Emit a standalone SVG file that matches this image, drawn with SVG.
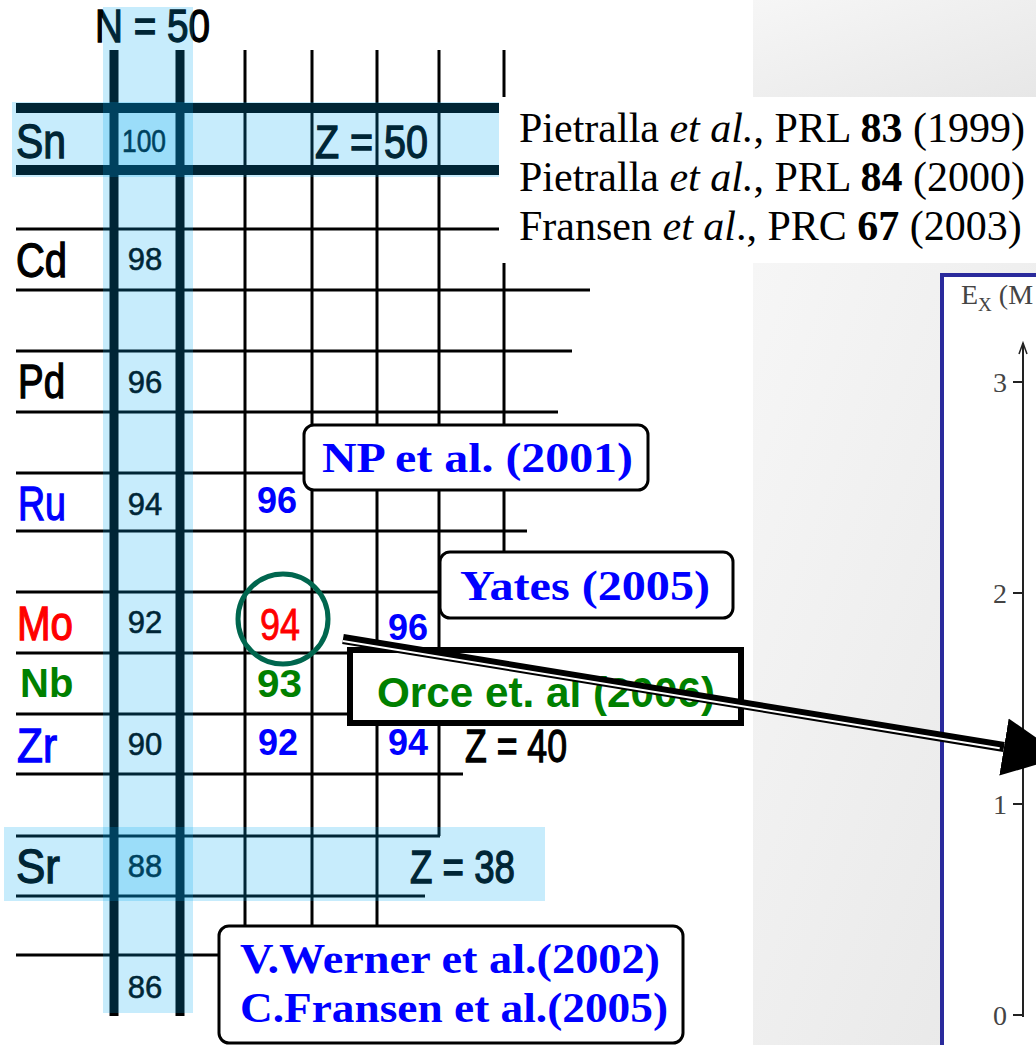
<svg xmlns="http://www.w3.org/2000/svg" width="1036" height="1045" viewBox="0 0 1036 1045">
<style>
.ln{stroke:#000;stroke-width:3;fill:none}
.tk{stroke:#000;stroke-width:9;fill:none}
.ov{fill:#00aaf0;fill-opacity:0.22}
.sans{font-family:"Liberation Sans",Arial,sans-serif}
.el{font-family:"Liberation Sans",Arial,sans-serif;font-size:48px;stroke-width:1.3}
.num{font-family:"Liberation Sans",Arial,sans-serif;font-size:31px;text-anchor:middle;fill:#000;stroke:#000;stroke-width:0.6}
.gn{font-family:"Liberation Sans",Arial,sans-serif;font-size:36px;font-weight:bold;fill:#0000ff}
.zl{font-family:"Liberation Sans",Arial,sans-serif;font-size:46px;fill:#000;stroke:#000;stroke-width:1.3}
.bx{fill:#fff;stroke:#000;stroke-width:3}
.refb{font-family:"Liberation Serif","Times New Roman",serif;font-weight:bold;fill:#0000ff;font-size:42px}
.cit{font-family:"Liberation Serif","Times New Roman",serif;font-size:42px;fill:#000}
.ax{font-family:"Liberation Serif","Times New Roman",serif;font-size:28px;fill:#444}
</style>
<defs>
<linearGradient id="gp" x1="0" y1="0" x2="1" y2="1">
<stop offset="0" stop-color="#f6f6f6"/>
<stop offset="1" stop-color="#e7e7e7"/>
</linearGradient>
<marker id="ah" markerUnits="userSpaceOnUse" markerWidth="62" markerHeight="60" refX="0" refY="30" orient="auto">
<path d="M0,1 L60,30 L0,59 Z" fill="#000"/>
</marker>
</defs>
<rect width="1036" height="1045" fill="#fff"/>

<g id="plot-panel">
<rect x="753" y="0" width="283" height="97" fill="url(#gp)"/>
<rect x="753" y="263" width="283" height="782" fill="url(#gp)"/>
<rect x="942" y="275" width="200" height="900" fill="#fff" stroke="#2a2a9c" stroke-width="4"/>
<text x="961" y="304" class="ax" font-size="27">E<tspan font-size="19" dy="7">X</tspan><tspan dy="-7"> (M</tspan></text>
<line x1="1023" y1="343" x2="1023" y2="1017" stroke="#222" stroke-width="2"/>
<path d="M1019,354 L1023,343 L1027,354" fill="none" stroke="#222" stroke-width="1.5"/>
<path d="M1013,382 H1023 M1013,593 H1023 M1013,804 H1023 M1013,1015 H1023" stroke="#222" stroke-width="2"/>
<text x="993" y="392" class="ax">3</text>
<text x="993" y="603" class="ax">2</text>
<text x="993" y="814" class="ax">1</text>
<text x="993" y="1025" class="ax">0</text>
</g>

<g id="chart-grid">
<path class="ln" d="M245,50 V926 M312,50 V926 M377,50 V926 M439,50 V836 M504,50 V97 M504,263 V552"/>
<path class="ln" d="M16,229 H499 M16,290 H590 M16,351 H572 M16,412 H558 M16,473 H305 M16,531 H527 M16,592 H440 M16,653 H350 M16,714 H350 M16,774 H463 M16,836 H440 M16,896 H425 M16,955 H220"/>
<path class="tk" d="M114,50 V1016 M180,50 V1016"/>
<path d="M16,108 H499 M16,170 H499" stroke="#000" stroke-width="10"/>

<text x="95" y="42" class="zl" font-size="44" textLength="115" lengthAdjust="spacingAndGlyphs">N = 50</text>
<text x="16" y="158" class="el" fill="#000" stroke="#000" textLength="50" lengthAdjust="spacingAndGlyphs">Sn</text>
<text x="16" y="277" class="el" fill="#000" stroke="#000" textLength="51" lengthAdjust="spacingAndGlyphs">Cd</text>
<text x="18" y="398" class="el" fill="#000" stroke="#000" textLength="47" lengthAdjust="spacingAndGlyphs">Pd</text>
<text x="18" y="520" class="el" fill="#0000ff" stroke="#0000ff" textLength="48" lengthAdjust="spacingAndGlyphs">Ru</text>
<text x="17" y="640" class="el" fill="#ff0000" stroke="#ff0000" textLength="56" lengthAdjust="spacingAndGlyphs">Mo</text>
<text x="20" y="697" class="sans" font-size="40" font-weight="bold" fill="#008000">Nb</text>
<text x="17" y="762" class="el" fill="#0000ff" stroke="#0000ff" textLength="40" lengthAdjust="spacingAndGlyphs">Zr</text>
<text x="16" y="883" class="el" fill="#000" stroke="#000" textLength="44" lengthAdjust="spacingAndGlyphs">Sr</text>

<text x="144" y="152" class="num" font-size="28" textLength="44" lengthAdjust="spacingAndGlyphs">100</text>
<text x="145" y="270" class="num">98</text>
<text x="145" y="393" class="num">96</text>
<text x="145" y="515" class="num">94</text>
<text x="145" y="633" class="num">92</text>
<text x="145" y="755" class="num">90</text>
<text x="145" y="877" class="num">88</text>
<text x="145" y="998" class="num">86</text>

<text x="257" y="513" class="gn">96</text>
<text x="260" y="640" class="sans" font-size="44" fill="#ff0000" stroke="#ff0000" stroke-width="0.8" textLength="40" lengthAdjust="spacingAndGlyphs">94</text>
<text x="388" y="640" class="gn">96</text>
<text x="257" y="697" class="sans" font-size="38" font-weight="bold" fill="#008000" textLength="45" lengthAdjust="spacingAndGlyphs">93</text>
<text x="258" y="755" class="gn">92</text>
<text x="388" y="755" class="gn">94</text>

<text x="315" y="158" class="zl" textLength="113" lengthAdjust="spacingAndGlyphs">Z = 50</text>
<text x="465" y="762" class="zl" font-size="44" stroke-width="2" textLength="102" lengthAdjust="spacingAndGlyphs">Z = 40</text>
<text x="410" y="883" class="zl" font-size="44" stroke-width="2" textLength="105" lengthAdjust="spacingAndGlyphs">Z = 38</text>

<rect class="ov" x="103" y="7" width="90" height="1006"/>
<rect class="ov" x="12" y="102" width="487" height="75"/>
<rect class="ov" x="4" y="827" width="541" height="74"/>
</g>

<g id="node-citations">
<text x="519" y="142" class="cit">Pietralla <tspan font-style="italic">et al.</tspan>, PRL <tspan font-weight="bold">83</tspan> (1999)</text>
<text x="519" y="191" class="cit">Pietralla <tspan font-style="italic">et al.</tspan>, PRL <tspan font-weight="bold">84</tspan> (2000)</text>
<text x="519" y="240" class="cit">Fransen <tspan font-style="italic">et al</tspan>., PRC <tspan font-weight="bold">67</tspan> (2003)</text>
</g>

<g id="node-np">
<rect class="bx" x="304" y="425" width="344" height="65" rx="10"/>
<text x="322" y="472" class="refb" textLength="311" lengthAdjust="spacingAndGlyphs">NP et al. (2001)</text>
</g>

<g id="node-yates">
<rect class="bx" x="440" y="552" width="293" height="66" rx="10"/>
<text x="460" y="600" class="refb" textLength="250" lengthAdjust="spacingAndGlyphs">Yates (2005)</text>
</g>

<g id="node-orce">
<rect x="350" y="650" width="391" height="73" fill="#fff" stroke="#000" stroke-width="6"/>
<text x="377" y="707" class="sans" font-size="42" font-weight="bold" fill="#008000" textLength="338" lengthAdjust="spacingAndGlyphs">Orce et. al (2006)</text>
</g>

<g id="node-werner">
<rect class="bx" x="219" y="926" width="464" height="117" rx="10"/>
<text x="240" y="973" class="refb" textLength="420" lengthAdjust="spacingAndGlyphs">V.Werner et al.(2002)</text>
<text x="240" y="1022" class="refb" textLength="428" lengthAdjust="spacingAndGlyphs">C.Fransen et al.(2005)</text>
</g>

<g id="node-mo94-circle">
<circle cx="283" cy="619" r="45" fill="none" stroke="#00664e" stroke-width="5"/>
</g>

<g id="connectors">
<line x1="343" y1="639" x2="1004" y2="747" stroke="#000" stroke-width="10" marker-end="url(#ah)"/>
<line x1="342.7" y1="641" x2="999.7" y2="748.3" stroke="#fff" stroke-width="2"/>
</g>
</svg>
